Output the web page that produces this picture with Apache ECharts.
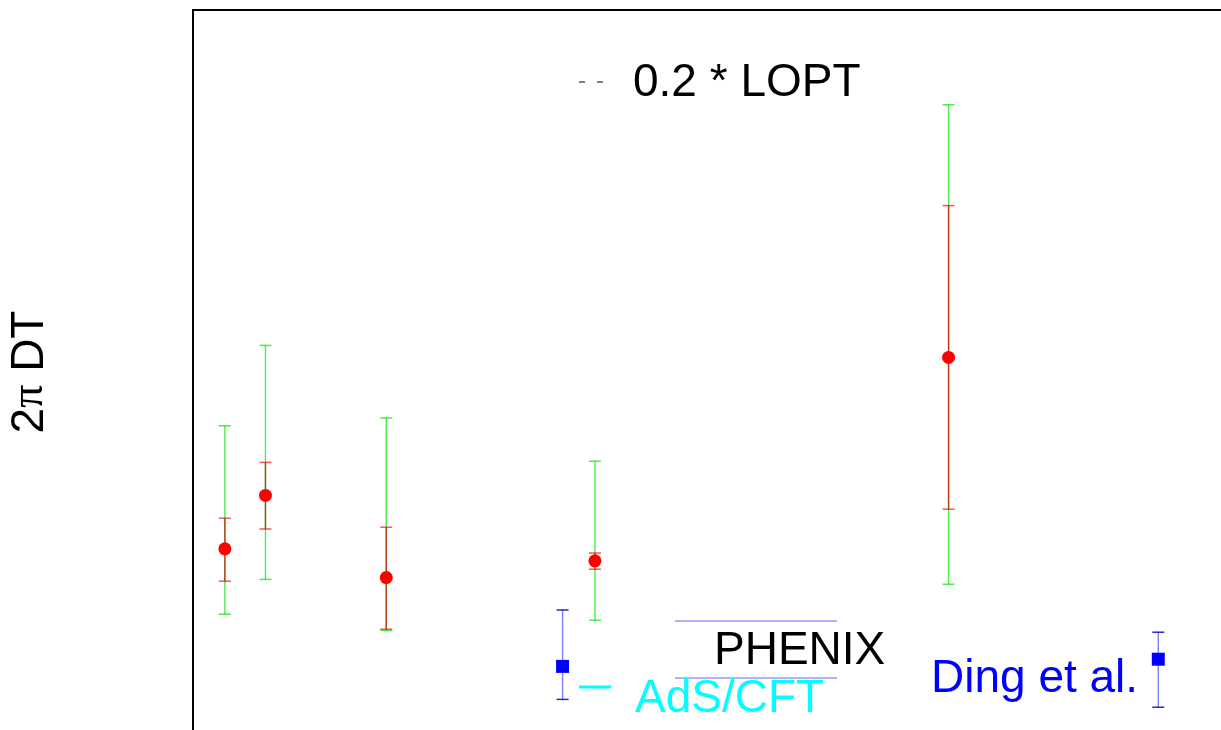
<!DOCTYPE html>
<html>
<head>
<meta charset="utf-8">
<script src="https://cdn.jsdelivr.net/npm/echarts@6/dist/echarts.min.js"></script>
<style>
html,body{margin:0;padding:0;background:#fff;}
#c{width:1221px;height:730px;}
</style>
</head>
<body>
<div id="c"></div>
<script>
// PHENIX points (x in arbitrary units, y = 2πDT)
const xRed   = [1.062, 1.141, 1.376, 1.782, 2.470];
const yRed   = [3.02, 3.91, 2.54, 2.82, 6.21];
const statLo = [2.48, 3.35, 1.68, 2.68, 3.68];
const statHi = [3.53, 4.46, 3.38, 2.95, 8.74];
const sysLo  = [1.93, 2.51, 1.66, 1.83, 2.43];
const sysHi  = [5.07, 6.41, 5.20, 4.48, 10.42];
// Lattice (Ding et al.) points
const xBlue  = [1.719, 2.878];
const yBlue  = [1.06, 1.18];
const blueLo = [0.51, 0.38];
const blueHi = [2.00, 1.63];

const legendText = '0.2 * LOPT';

function errData(xs, lo, hi) { return xs.map((x, i) => [x, lo[i], hi[i]]); }
function pts(xs, ys) { return xs.map((x, i) => [x, ys[i]]); }

function errRender(color, capColor, width) {
  return function (params, api) {
    const x = api.value(0);
    const p1 = api.coord([x, api.value(1)]);
    const p2 = api.coord([x, api.value(2)]);
    const hw = 6;
    return {
      type: 'group',
      children: [
        { type: 'line', shape: { x1: p1[0], y1: p1[1], x2: p2[0], y2: p2[1] }, style: { stroke: color, lineWidth: width } },
        { type: 'line', shape: { x1: p1[0] - hw, y1: p1[1], x2: p1[0] + hw, y2: p1[1] }, style: { stroke: capColor, lineWidth: 1.5 } },
        { type: 'line', shape: { x1: p2[0] - hw, y1: p2[1], x2: p2[0] + hw, y2: p2[1] }, style: { stroke: capColor, lineWidth: 1.5 } }
      ]
    };
  };
}

const chart = echarts.init(document.getElementById('c'), null, { renderer: 'canvas' });
const font = '"Liberation Sans", Arial, Helvetica, sans-serif';
const fs = 46;

chart.setOption({
  animation: false,
  backgroundColor: '#fff',
  grid: { left: 193, top: 10, right: 0, bottom: 0 },
  xAxis: {
    type: 'value', min: 1, max: 3, position: 'top',
    axisLine: { show: true, onZero: false, lineStyle: { color: '#000', width: 2 } },
    axisTick: { show: false }, axisLabel: { show: false }, splitLine: { show: false }
  },
  yAxis: {
    type: 'value', min: 0, max: 12,
    axisLine: { show: true, onZero: false, lineStyle: { color: '#000', width: 2 } },
    axisTick: { show: false }, axisLabel: { show: false }, splitLine: { show: false }
  },
  series: [
    { type: 'custom', name: 'sys', data: errData(xRed, sysLo, sysHi), renderItem: errRender('rgba(0,230,0,0.7)', 'rgba(0,230,0,0.7)', 1.4), z: 2 },
    { type: 'custom', name: 'stat', data: errData(xRed, statLo, statHi), renderItem: errRender('rgba(220,0,0,0.75)', 'rgba(240,0,0,0.65)', 1.4), z: 3 },
    { type: 'custom', name: 'lat', data: errData(xBlue, blueLo, blueHi), renderItem: errRender('rgba(0,0,255,0.5)', 'rgba(0,0,200,0.85)', 1.4), z: 3 },
    { type: 'scatter', name: 'PHENIX', data: pts(xRed, yRed), symbol: 'circle', symbolSize: 13, itemStyle: { color: '#ff0000', opacity: 1 }, z: 5 },
    { type: 'scatter', name: 'Ding et al.', data: pts(xBlue, yBlue), symbol: 'rect', symbolSize: 13, itemStyle: { color: '#0000ff', opacity: 1 }, z: 5 }
  ],
  graphic: [
    { type: 'text', x: 30, y: 372, rotation: Math.PI / 2,
      style: {
        text: '{a|2}{p|π}{a| DT}', textAlign: 'center', textVerticalAlign: 'middle',
        rich: {
          a: { font: fs + 'px ' + font, fill: '#000' },
          p: { font: fs + 'px "Liberation Serif", "DejaVu Serif", serif', fill: '#000' }
        }
      } },
    { type: 'line', shape: { x1: 579, y1: 82, x2: 604, y2: 82 }, style: { stroke: '#000', lineWidth: 1, lineDash: [6, 12] } },
    { type: 'text', x: 633, y: 83,
      style: { text: legendText, font: fs + 'px ' + font, fill: '#000', textAlign: 'left', textVerticalAlign: 'middle' } },
    { type: 'line', shape: { x1: 675, y1: 621, x2: 837, y2: 621 }, style: { stroke: 'rgba(0,0,255,0.6)', lineWidth: 1 } },
    { type: 'line', shape: { x1: 675, y1: 678, x2: 837, y2: 678 }, style: { stroke: 'rgba(0,0,255,0.6)', lineWidth: 1 } },
    { type: 'text', x: 714, y: 651,
      style: { text: 'PHENIX', font: fs + 'px ' + font, fill: '#000', textAlign: 'left', textVerticalAlign: 'middle' } },
    { type: 'line', shape: { x1: 579, y1: 687, x2: 611, y2: 687 }, style: { stroke: '#00ffff', lineWidth: 3 } },
    { type: 'text', x: 635, y: 699,
      style: { text: 'AdS/CFT', font: fs + 'px ' + font, fill: '#00ffff', textAlign: 'left', textVerticalAlign: 'middle' } },
    { type: 'text', x: 931, y: 679,
      style: { text: 'Ding et al.', font: fs + 'px ' + font, fill: '#0000ff', textAlign: 'left', textVerticalAlign: 'middle' } }
  ]
});
</script>
</body>
</html>
